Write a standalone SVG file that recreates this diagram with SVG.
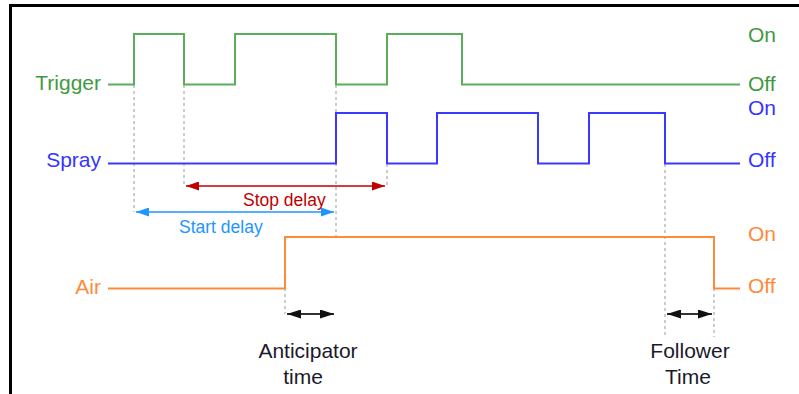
<svg xmlns="http://www.w3.org/2000/svg" width="799" height="394" viewBox="0 0 799 394">
<style>
  text { font-family: "Liberation Sans", Arial, sans-serif; }
  .lbl { font-size: 21px; }
  .sm { font-size: 17.5px; }
  .sig { fill: none; stroke-width: 2; }
  .dash { stroke: #9a9a9a; stroke-width: 1; stroke-dasharray: 3 3; fill: none; }
  .g { fill: #3f9a3f; }
  .b { fill: #3535ff; }
  .o { fill: #ff8a3a; }
</style>
<defs>
  <marker id="ar" viewBox="0 0 13 9" refX="13" refY="4.5" markerWidth="13" markerHeight="9" markerUnits="userSpaceOnUse" orient="auto-start-reverse">
    <path d="M0,0 L13,4.5 L0,9 z" fill="#c00000"/>
  </marker>
  <marker id="ab" viewBox="0 0 13 9" refX="13" refY="4.5" markerWidth="13" markerHeight="9" markerUnits="userSpaceOnUse" orient="auto-start-reverse">
    <path d="M0,0 L13,4.5 L0,9 z" fill="#1e96ff"/>
  </marker>
  <marker id="ak" viewBox="0 0 14 9" refX="14" refY="4.5" markerWidth="14" markerHeight="9" markerUnits="userSpaceOnUse" orient="auto-start-reverse">
    <path d="M0,0 L14,4.5 L0,9 z" fill="#111"/>
  </marker>
</defs>
<rect width="799" height="394" fill="#fff"/>
<path d="M10.5,394 V5.5 H799" fill="none" stroke="#000" stroke-width="3"/>

<g id="connectors">
  <path class="dash" d="M134,85 V212 M184,85 V186 M336,85 V237 M387,164 V186 M285,288 V314 M665,164 V337 M714,288 V337"/>
  <line x1="186" y1="186" x2="385" y2="186" stroke="#c00000" stroke-width="1.5" marker-start="url(#ar)" marker-end="url(#ar)"/>
  <line x1="136" y1="212" x2="334" y2="212" stroke="#1e96ff" stroke-width="1.5" marker-start="url(#ab)" marker-end="url(#ab)"/>
  <line x1="287" y1="314" x2="334" y2="314" stroke="#333" stroke-width="2" marker-start="url(#ak)" marker-end="url(#ak)"/>
  <line x1="667" y1="314" x2="712" y2="314" stroke="#333" stroke-width="2" marker-start="url(#ak)" marker-end="url(#ak)"/>
  <text class="sm" x="243" y="206" fill="#c00000">Stop delay</text>
  <text class="sm" x="179" y="233" fill="#1e96ff">Start delay</text>
</g>

<g id="trigger">
  <path class="sig" stroke="#5aad5a" d="M108,84.5 H134 V34 H184 V84.5 H235 V34 H336 V84.5 H387 V34 H462 V84.5 H740"/>
  <text class="lbl g" x="101" y="90" text-anchor="end">Trigger</text>
  <text class="lbl g" x="748" y="42">On</text>
  <text class="lbl g" x="748" y="91">Off</text>
</g>

<g id="spray">
  <path class="sig" stroke="#3a3aff" d="M108,163.5 H336 V113 H387 V163.5 H437 V113 H538 V163.5 H589 V113 H665 V163.5 H740"/>
  <text class="lbl b" x="101" y="167" text-anchor="end">Spray</text>
  <text class="lbl b" x="748" y="115">On</text>
  <text class="lbl b" x="748" y="167">Off</text>
</g>

<g id="air">
  <path class="sig" stroke="#ff8a3a" d="M108,288.5 H285 V237 H714 V288.5 H740"/>
  <text class="lbl o" x="101" y="294" text-anchor="end">Air</text>
  <text class="lbl o" x="748" y="241">On</text>
  <text class="lbl o" x="748" y="293">Off</text>
</g>

<g id="anticipator">
  <text class="lbl" x="308" y="358" text-anchor="middle" fill="#1a1a2a">Anticipator</text>
  <text class="lbl" x="303" y="384" text-anchor="middle" fill="#1a1a2a">time</text>
</g>

<g id="follower">
  <text class="lbl" x="690" y="358" text-anchor="middle" fill="#1a1a2a">Follower</text>
  <text class="lbl" x="688" y="384" text-anchor="middle" fill="#1a1a2a">Time</text>
</g>
</svg>
